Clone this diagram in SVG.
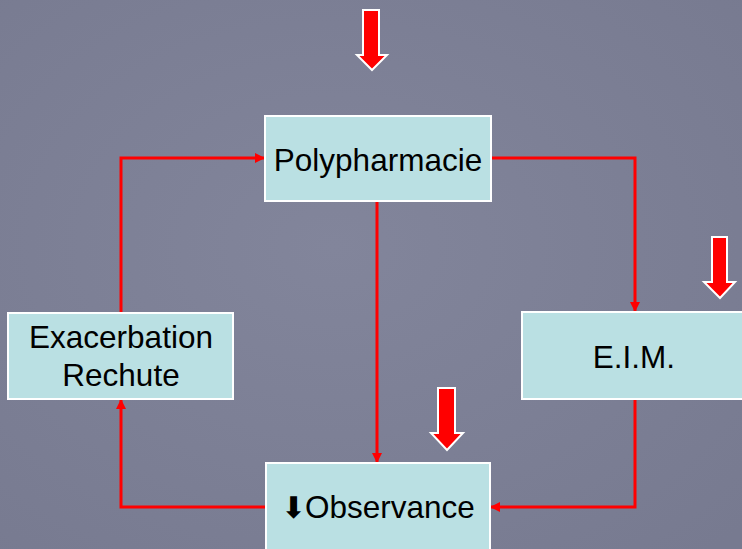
<svg xmlns="http://www.w3.org/2000/svg" width="742" height="549" viewBox="0 0 742 549">
  <defs>
    <radialGradient id="bg" cx="0.45" cy="0.45" r="0.75">
      <stop offset="0" stop-color="#82859b"/>
      <stop offset="1" stop-color="#777a90"/>
    </radialGradient>
    <marker id="ah" markerWidth="10" markerHeight="10" refX="9" refY="5" orient="auto" markerUnits="userSpaceOnUse">
      <path d="M0,0 L10,5 L0,10 Z" fill="#ff0000"/>
    </marker>
    <style>
      .box { fill: #bae0e3; stroke: #ffffff; stroke-width: 2; }
      .lbl { font-family: "Liberation Sans", Arial, sans-serif; font-size: 31.5px; fill: #000000; }
      .conn { fill: none; stroke: #ff0000; stroke-width: 3; marker-end: url(#ah); }
      .big { fill: #ff0000; stroke: #ffffff; stroke-width: 2; stroke-linejoin: miter; }
    </style>
  </defs>
  <rect x="0" y="0" width="742" height="549" fill="url(#bg)"/>

  <g id="connectors">
    <path class="conn" d="M121,313 L121,158 L264,158"/>
    <path class="conn" d="M491,158 L635,158 L635,311"/>
    <path class="conn" d="M377,201 L377,462"/>
    <path class="conn" d="M635,399 L635,507 L491,507"/>
    <path class="conn" d="M266,507 L121,507 L121,400"/>
  </g>

  <g id="node-polypharmacie">
    <rect class="box" x="265" y="116" width="226" height="85"/>
    <text class="lbl" x="378" y="171" text-anchor="middle">Polypharmacie</text>
  </g>

  <g id="node-exacerbation">
    <rect class="box" x="8" y="313" width="225" height="86"/>
    <text class="lbl" x="121" y="348" text-anchor="middle">Exacerbation</text>
    <text class="lbl" x="121" y="386" text-anchor="middle">Rechute</text>
  </g>

  <g id="node-eim">
    <rect class="box" x="522" y="312" width="230" height="87"/>
    <text class="lbl" x="634" y="368" text-anchor="middle">E.I.M.</text>
  </g>

  <g id="node-observance">
    <rect class="box" x="266" y="463" width="224" height="100"/>
    <text class="lbl" x="281" y="518"><tspan font-family="'DejaVu Sans', sans-serif" font-size="30px">⬇</tspan><tspan x="305">Observance</tspan></text>
  </g>

  <g id="block-arrows">
    <path class="big" d="M363,10 L379,10 L379,55 L387,55 L372,70 L357,55 L363,55 Z"/>
    <path class="big" d="M712,237 L727,237 L727,282 L735,282 L720,298 L704,282 L712,282 Z"/>
    <path class="big" d="M438,388 L455,388 L455,433 L463,433 L447,450 L431,433 L438,433 Z"/>
  </g>
</svg>
